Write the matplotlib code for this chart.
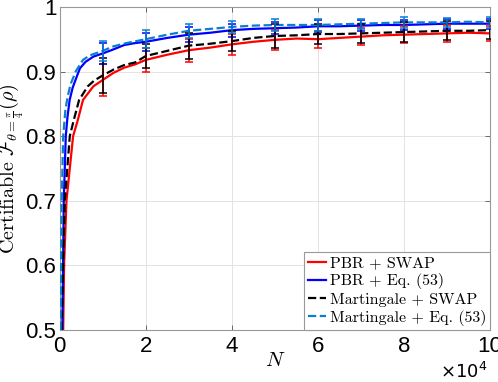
import matplotlib.pyplot as plt
from matplotlib.ticker import FuncFormatter

plt.rcParams['mathtext.fontset'] = 'cm'
plt.rcParams['font.family'] = ['Liberation Sans', 'DejaVu Sans']

# mean curves (N, certifiable fidelity)
n_pbr_swap = [800, 1000, 1560, 3100, 4200, 5400, 7800, 10000, 12500, 15000, 17500, 20000,
              25000, 30000, 35000, 40000, 45000, 50000, 55000, 60000, 65000, 70000,
              75000, 80000, 85000, 90000, 95000, 100000]
f_pbr_swap = [0.5, 0.6, 0.7, 0.8, 0.825, 0.856, 0.877, 0.887, 0.898, 0.906, 0.911, 0.918,
              0.926, 0.933, 0.937, 0.942, 0.946, 0.949, 0.951, 0.950, 0.952, 0.954,
              0.956, 0.957, 0.958, 0.959, 0.960, 0.959]

n_pbr_eq = [600, 770, 930, 1400, 1800, 2300, 3000, 4000, 4700, 6000, 7800, 10000, 12000,
            15000, 17500, 20000, 25000, 30000, 35000, 40000, 45000, 50000, 55000, 60000,
            65000, 70000, 75000, 80000, 85000, 90000, 95000, 100000]
f_pbr_eq = [0.5, 0.6, 0.7, 0.8, 0.83, 0.856, 0.875, 0.893, 0.905, 0.915, 0.923, 0.928, 0.933,
            0.941, 0.944, 0.946, 0.952, 0.957, 0.960, 0.964, 0.966, 0.967, 0.968, 0.970,
            0.970, 0.971, 0.972, 0.972, 0.973, 0.974, 0.974, 0.974]

n_mart_swap = [400, 770, 1170, 2330, 2700, 3260, 4500, 6500, 8000, 10000, 12500, 15000,
               17500, 20000, 25000, 30000, 35000, 40000, 45000, 50000, 55000, 60000,
               65000, 70000, 75000, 80000, 85000, 90000, 95000, 100000]
f_mart_swap = [0.5, 0.6, 0.7, 0.8, 0.81, 0.825, 0.856, 0.877, 0.886, 0.894, 0.903, 0.910,
               0.914, 0.924, 0.932, 0.940, 0.943, 0.947, 0.952, 0.955, 0.956, 0.958,
               0.958, 0.959, 0.960, 0.961, 0.962, 0.963, 0.963, 0.964]

n_mart_eq = [200, 300, 450, 800, 1300, 1800, 2500, 3700, 5400, 7000, 10000, 12500, 15500,
             20000, 25000, 30000, 35000, 40000, 45000, 50000, 55000, 60000, 65000, 70000,
             75000, 80000, 85000, 90000, 95000, 100000]
f_mart_eq = [0.5, 0.6, 0.7, 0.8, 0.84, 0.86, 0.88, 0.90, 0.918, 0.925, 0.932, 0.939, 0.944,
             0.950, 0.957, 0.963, 0.966, 0.969, 0.971, 0.972, 0.972, 0.972, 0.973, 0.974,
             0.975, 0.976, 0.976, 0.976, 0.977, 0.976]

# error bars at N = 1e4 ... 1e5
n_err = [10000, 20000, 30000, 40000, 50000, 60000, 70000, 80000, 90000, 100000]
m_pbr_swap = [0.887, 0.918, 0.933, 0.942, 0.949, 0.950, 0.954, 0.957, 0.959, 0.959]
e_pbr_swap = [0.025, 0.018, 0.018, 0.016, 0.015, 0.013, 0.013, 0.013, 0.013, 0.012]
m_pbr_eq = [0.928, 0.946, 0.957, 0.964, 0.967, 0.970, 0.971, 0.972, 0.974, 0.974]
e_pbr_eq = [0.016, 0.014, 0.012, 0.010, 0.009, 0.009, 0.008, 0.008, 0.008, 0.008]
m_mart_swap = [0.894, 0.924, 0.940, 0.947, 0.955, 0.958, 0.959, 0.961, 0.963, 0.964]
e_mart_swap = [0.027, 0.018, 0.020, 0.016, 0.019, 0.016, 0.015, 0.015, 0.015, 0.014]
m_mart_eq = [0.932, 0.950, 0.963, 0.969, 0.972, 0.972, 0.974, 0.976, 0.976, 0.976]
e_mart_eq = [0.015, 0.014, 0.011, 0.009, 0.009, 0.009, 0.008, 0.008, 0.007, 0.008]

series = [
    (n_pbr_swap, f_pbr_swap, m_pbr_swap, e_pbr_swap, '#ff0000', '-', 'PBR + SWAP'),
    (n_pbr_eq, f_pbr_eq, m_pbr_eq, e_pbr_eq, '#0000ff', '-', 'PBR + Eq. (53)'),
    (n_mart_swap, f_mart_swap, m_mart_swap, e_mart_swap, '#000000', '--', 'Martingale + SWAP'),
    (n_mart_eq, f_mart_eq, m_mart_eq, e_mart_eq, '#0a7fd0', '--', 'Martingale + Eq. (53)'),
]

fig = plt.figure(figsize=(4.98, 3.82), dpi=100)
ax = fig.add_axes([0.12, 0.136, 0.864, 0.846])

for n, f, m, e, color, ls, label in series:
    ax.plot(n, f, color=color, linestyle=ls, linewidth=1.6, label=label, zorder=3)
for n, f, m, e, color, ls, label in series:
    ax.errorbar(n_err, m, yerr=e, fmt='none', ecolor=color, elinewidth=1.1,
                capsize=3.2, capthick=1.1, zorder=4)

ax.set_xlim(0, 100000)
ax.set_ylim(0.5, 1)
ax.set_xticks([0, 20000, 40000, 60000, 80000, 100000])
ax.set_yticks([0.5, 0.6, 0.7, 0.8, 0.9, 1.0])
ax.xaxis.set_major_formatter(FuncFormatter(lambda v, p: f'{v / 1e4:g}'))
ax.yaxis.set_major_formatter(FuncFormatter(lambda v, p: f'{v:g}'))
ax.tick_params(direction='in', length=3.5, width=0.6, color='#555555',
               top=True, right=True, labelsize=16)
ax.tick_params(axis='y', pad=2.5)
ax.tick_params(axis='x', pad=4)
ax.grid(True, color='#e3e3e3', linewidth=0.7)
ax.set_axisbelow(True)
for s in ax.spines.values():
    s.set_color('#999999')
    s.set_linewidth(0.8)

ax.set_xlabel(r'$N$', fontsize=15, labelpad=-4)
ax.set_ylabel(r'$\mathrm{Certifiable}\ \mathcal{F}_{\theta=\frac{\pi}{4}}(\rho)$', fontsize=14.5)
ax.yaxis.set_label_coords(-0.078, 0.5)
fig.text(0.978, 0.0, r'$\times10^{4}$', ha='right', va='bottom',
         fontsize=13, math_fontfamily='dejavusans')

leg = ax.legend(loc='lower right', borderaxespad=0, handlelength=1.1,
                prop={'family': 'cmr10', 'size': 11.5},
                handletextpad=0.25, labelspacing=0.2, borderpad=0.25, fancybox=False,
                framealpha=1)
leg.get_frame().set_edgecolor('#999999')
leg.get_frame().set_linewidth(0.8)

fig.savefig('out.png', dpi=100)
